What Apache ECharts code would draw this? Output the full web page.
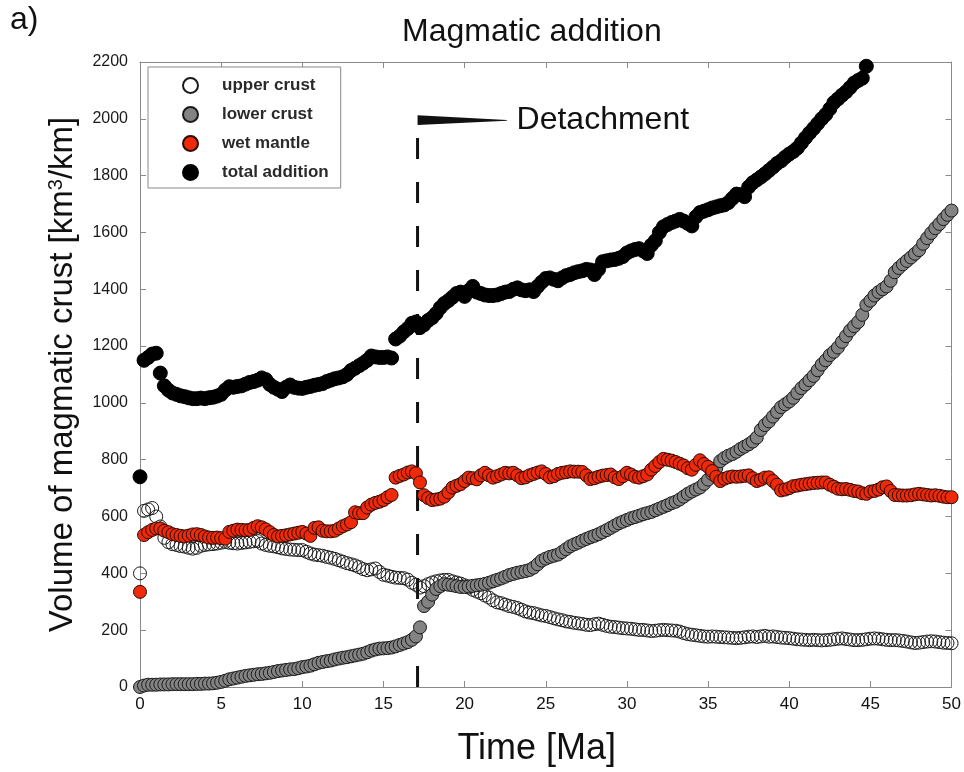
<!DOCTYPE html>
<html>
<head>
<meta charset="utf-8">
<script src="https://cdn.jsdelivr.net/npm/echarts@6/dist/echarts.min.js"></script>
<style>
html,body{margin:0;padding:0;background:#fff;}
#chart{width:964px;height:772px;}
</style>
</head>
<body>
<div id="chart"></div>
<script>
// ---------- data ----------
const timeStep = 0.25; // Ma, model output sampling
const xTicks = [0, 5, 10, 15, 20, 25, 30, 35, 40, 45, 50];
const yTicks = [0, 200, 400, 600, 800, 1000, 1200, 1400, 1600, 1800, 2000, 2200];
const seriesNames = ['upper crust', 'lower crust', 'wet mantle', 'total addition'];

const upperCrust = [
  400,620,625,630,600,565,525,510,503,500,496,494,490,487,490,497,500,502,503,505,
  508,511,508,506,505,507,509,511,513,514,505,500,497,495,492,488,486,484,483,482,
  482,476,470,466,464,462,458,455,451,446,441,436,432,428,422,415,411,414,417,405,
  395,392,388,385,384,383,378,367,360,350,355,362,368,372,375,377,377,372,368,364,
  358,350,342,336,330,322,315,305,298,295,290,285,282,278,272,266,262,260,256,252,
  250,246,242,238,235,231,229,226,224,222,219,218,221,223,219,215,212,211,209,207,
  206,205,203,201,201,199,197,198,200,201,200,199,198,195,190,186,184,182,180,178,
  177,178,177,176,175,174,173,172,173,175,177,178,176,178,180,177,178,176,174,173,
  172,170,168,167,166,165,166,165,164,165,166,168,170,171,169,167,165,165,166,168,
  170,171,170,168,166,165,165,164,162,160,157,155,156,158,160,161,160,158,156,155,
  154
];

const lowerCrust = [
  0,5,8,8,8,9,9,9,10,10,10,10,10,10,11,11,12,12,13,15,
  18,22,27,30,33,36,39,41,43,45,46,48,50,53,56,58,60,62,63,66,
  70,72,75,80,85,88,91,93,97,100,103,105,108,111,114,117,122,128,132,135,
  136,137,139,143,148,153,158,166,178,210,285,300,325,345,355,362,360,358,355,352,
  352,354,356,358,360,363,367,372,377,382,388,394,398,402,405,408,412,420,432,445,
  452,458,462,466,475,485,495,502,508,515,521,527,532,538,545,552,560,568,576,582,
  588,594,598,603,608,612,616,622,628,634,640,647,652,660,670,680,688,695,702,715,
  730,750,770,795,806,814,820,828,838,846,854,864,878,905,922,935,952,968,985,995,
  1005,1018,1035,1052,1065,1080,1095,1115,1135,1150,1168,1180,1195,1215,1235,1255,1270,1285,1310,1345,
  1360,1378,1390,1400,1410,1430,1460,1475,1488,1500,1512,1525,1538,1560,1580,1598,1615,1630,1647,1662,
  1677
];

const wetMantle = [
  335,535,545,553,558,558,550,545,538,535,532,530,533,537,538,535,530,526,525,526,
  524,522,546,550,554,553,552,553,560,566,562,555,545,535,530,532,534,537,540,543,
  546,540,532,560,562,550,548,548,550,558,566,572,580,615,612,612,632,642,648,652,
  658,668,676,737,743,748,755,759,752,720,675,665,658,660,663,670,685,702,708,714,
  725,737,735,731,745,754,745,737,742,748,754,752,754,745,735,738,745,750,755,759,
  750,738,742,750,754,756,759,758,758,757,745,732,735,740,744,746,748,738,732,742,
  754,748,740,737,742,748,765,778,792,803,800,797,792,786,780,770,765,782,798,785,
  775,760,740,725,733,738,741,740,741,743,745,735,725,730,737,738,725,712,692,695,
  700,707,709,712,714,716,718,719,720,720,712,705,698,696,697,694,690,688,682,680,
  688,690,695,703,706,690,676,675,674,674,675,678,680,678,676,674,675,673,670,668,
  668
];

const totalAddition = [
  740,1150,1160,1172,1175,1105,1060,1045,1035,1030,1025,1022,1018,1015,1015,1017,1015,1018,1020,1024,
  1030,1045,1057,1055,1058,1060,1066,1072,1075,1080,1088,1082,1065,1055,1048,1040,1055,1063,1055,1052,
  1051,1055,1058,1062,1065,1068,1075,1080,1085,1088,1092,1100,1114,1122,1131,1140,1150,1165,1162,1160,
  1160,1162,1158,1225,1235,1250,1262,1280,1285,1265,1275,1290,1300,1315,1335,1350,1360,1372,1385,1390,
  1375,1395,1410,1390,1385,1380,1378,1378,1380,1385,1390,1392,1400,1405,1398,1395,1398,1392,1410,1425,
  1438,1440,1435,1430,1440,1448,1452,1458,1462,1465,1470,1468,1452,1470,1497,1500,1503,1505,1509,1515,
  1528,1535,1540,1543,1535,1526,1555,1571,1600,1620,1628,1635,1640,1646,1640,1632,1623,1655,1670,1675,
  1680,1686,1690,1694,1697,1705,1720,1735,1733,1726,1760,1775,1785,1795,1806,1818,1830,1843,1852,1865,
  1876,1885,1897,1915,1933,1950,1966,1983,2000,2015,2035,2057,2070,2083,2095,2110,2126,2135,2143,2185
];

// detachment annotation (data coordinates)
const detachTime = 17.1;
const detachTop = 1985;
const flagTip = 22.6;
const detachLabel = 'Detachment';

// ---------- chart ----------
const toPairs = arr => arr.map((v, i) => [i * timeStep, v]);
const FONT = '"Liberation Sans", Arial, Helvetica, sans-serif';

const chart = echarts.init(document.getElementById('chart'), null, {renderer: 'canvas'});

const baseX = {
  type: 'value', min: xTicks[0], max: xTicks[xTicks.length - 1], interval: xTicks[1] - xTicks[0],
  splitLine: {show: false},
  axisLine: {show: true, onZero: false, lineStyle: {color: '#8a8a8a', width: 1}},
  axisTick: {show: true, inside: true, length: 6, lineStyle: {color: '#8a8a8a'}}
};
const baseY = {
  type: 'value', min: yTicks[0], max: yTicks[yTicks.length - 1], interval: yTicks[1] - yTicks[0],
  splitLine: {show: false},
  axisLine: {show: true, onZero: false, lineStyle: {color: '#8a8a8a', width: 1}},
  axisTick: {show: true, inside: true, length: 6, lineStyle: {color: '#8a8a8a'}}
};

const option = {
  backgroundColor: '#ffffff',
  animation: false,
  textStyle: {fontFamily: FONT},
  title: {
    text: 'Magmatic addition',
    left: 397, top: 11,
    textStyle: {fontFamily: FONT, fontSize: 32, fontWeight: 'normal', color: '#111'}
  },
  graphic: [{
    type: 'text', left: 10, top: 4,
    style: {text: 'a)', fontFamily: FONT, fontSize: 32, fill: '#111'}
  }],
  grid: {left: 140, right: 11, top: 62, bottom: 69, containLabel: false},
  legend: {
    data: seriesNames,
    orient: 'vertical',
    left: 148, top: 67,
    backgroundColor: '#fff',
    borderColor: '#8a8a8a', borderWidth: 1,
    padding: [10, 12, 7, 34],
    itemWidth: 15, itemHeight: 15, itemGap: 12,
    textStyle: {fontFamily: FONT, fontSize: 17, fontWeight: 'bold', color: '#2a2a2a',
                lineHeight: 15, padding: [0, 0, 0, 19]}
  },
  xAxis: [
    Object.assign({}, baseX, {
      position: 'bottom',
      name: 'Time [Ma]', nameLocation: 'middle', nameGap: 44,
      nameTextStyle: {fontFamily: FONT, fontSize: 36, color: '#111', padding: [0, 18, 0, 0]},
      axisLabel: {fontFamily: FONT, fontSize: 17, color: '#111', margin: 9}
    }),
    Object.assign({}, baseX, {position: 'top', axisLabel: {show: false}})
  ],
  yAxis: [
    Object.assign({}, baseY, {
      position: 'left',
      name: 'Volume of magmatic crust [km{sup|3}/km]',
      nameLocation: 'middle', nameGap: 60, nameRotate: 90,
      nameTextStyle: {
        fontFamily: FONT, fontSize: 33, color: '#111',
        rich: {sup: {fontFamily: FONT, fontSize: 20, color: '#111', verticalAlign: 'top', padding: [0, 0, 14, 0]}}
      },
      axisLabel: {fontFamily: FONT, fontSize: 16, color: '#1a1a1a', margin: 12,
                  formatter: v => String(v)}
    }),
    Object.assign({}, baseY, {position: 'right', axisLabel: {show: false}})
  ],
  series: [
    {
      name: seriesNames[0], type: 'scatter', symbol: 'circle', symbolSize: 13,
      data: toPairs(upperCrust),
      itemStyle: {color: 'rgba(255,255,255,0)', borderColor: '#1a1a1a', borderWidth: 1, opacity: 1},
      emphasis: {disabled: true}
    },
    {
      name: seriesNames[1], type: 'scatter', symbol: 'circle', symbolSize: 13,
      data: toPairs(lowerCrust),
      itemStyle: {color: '#838383', borderColor: '#1a1a1a', borderWidth: 1, opacity: 1},
      emphasis: {disabled: true}
    },
    {
      name: seriesNames[2], type: 'scatter', symbol: 'circle', symbolSize: 13,
      data: toPairs(wetMantle),
      itemStyle: {color: '#ee2a0a', borderColor: '#2a0a04', borderWidth: 1, opacity: 1},
      emphasis: {disabled: true}
    },
    {
      name: seriesNames[3], type: 'scatter', symbol: 'circle', symbolSize: 14,
      data: toPairs(totalAddition),
      itemStyle: {color: '#000', borderColor: '#000', borderWidth: 1, opacity: 1},
      emphasis: {disabled: true}
    },
    {
      name: 'detachment', type: 'custom', clip: false, silent: true,
      data: [[detachTime, detachTop]],
      renderItem: function (params, api) {
        const bottom = api.coord([detachTime, 0]);
        const top = api.coord([detachTime, detachTop]);
        const f1 = api.coord([detachTime, 2013]);
        const f2 = api.coord([flagTip, 1996]);
        const f3 = api.coord([flagTip, 1993]);
        const f4 = api.coord([detachTime, 1978]);
        const t = api.coord([flagTip + 0.6, 1994]);
        return {
          type: 'group',
          children: [
            {type: 'line', shape: {x1: bottom[0], y1: bottom[1], x2: top[0], y2: top[1]},
             style: {stroke: '#111', lineWidth: 3, lineDash: [21, 23]}},
            {type: 'polygon', shape: {points: [f1, f2, f3, f4]}, style: {fill: '#111'}},
            {type: 'text', x: t[0], y: t[1],
             style: {text: detachLabel, fontFamily: FONT, fontSize: 32, fill: '#111',
                     align: 'left', verticalAlign: 'middle'}}
          ]
        };
      }
    }
  ]
};
chart.setOption(option);
</script>
</body>
</html>
